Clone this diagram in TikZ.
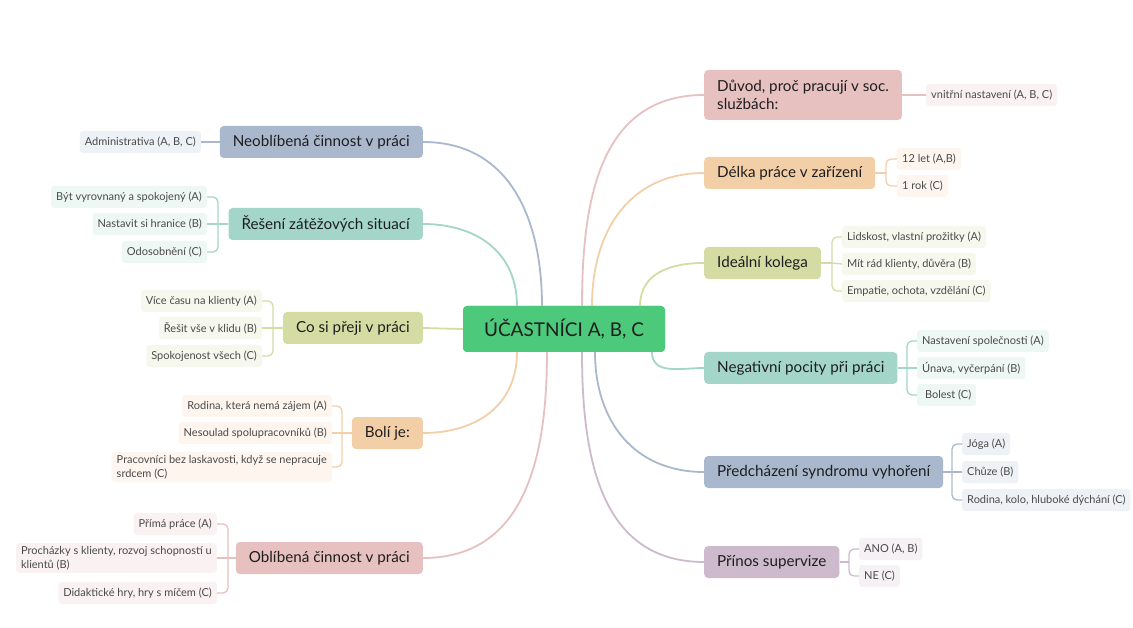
\documentclass[tikz,border=0pt]{standalone}
\usepackage{fontspec}
\setmainfont{Lato}
\definecolor{cblue}{HTML}{AAB8CD}
\definecolor{cteal}{HTML}{A3D5C8}
\definecolor{colive}{HTML}{D4DCA4}
\definecolor{cpeach}{HTML}{F3CFA8}
\definecolor{cpink}{HTML}{E7C0C0}
\definecolor{cmauve}{HTML}{CDBBCD}
\definecolor{cgreen}{HTML}{4CC97B}
\definecolor{maintext}{HTML}{1E1E1E}
\definecolor{leaftext}{HTML}{4A4A4A}
\begin{document}
\begin{tikzpicture}[x=1pt,y=-1pt,
  mainbox/.style={rounded corners=4pt, minimum height=32pt, inner xsep=13pt, inner ysep=4pt,
    font=\fontsize{15.2}{18}\selectfont, text=maintext, align=left},
  rootbox/.style={mainbox, fill=cgreen, font=\fontsize{19}{23}\selectfont, minimum width=202pt, minimum height=46pt, align=center},
  leafbox/.style={rounded corners=3pt, minimum height=22pt, inner xsep=5pt, inner ysep=3pt,
    font=\fontsize{11}{14}\selectfont, text=leaftext, align=left},
  conn/.style={line width=1.8pt},
  lconn/.style={line width=1.3pt, rounded corners=5pt}]
\useasboundingbox (0,0) rectangle (1133,628);

% root (placed first to name it, redrawn over the connectors below)
\node[rootbox] (root) at (564,329) {ÚČASTNÍCI A, B, C};

% left main nodes
\node[mainbox, fill=cblue, anchor=east] (L1) at (423,142) {Neoblíbená činnost v práci};
\node[mainbox, fill=cteal, anchor=east] (L2) at (423,224) {Řešení zátěžových situací};
\node[mainbox, fill=colive, anchor=east] (L3) at (423,328) {Co si přeji v práci};
\node[mainbox, fill=cpeach, anchor=east] (L4) at (423,433) {Bolí je:};
\node[mainbox, fill=cpink, anchor=east] (L5) at (423,558) {Oblíbená činnost v práci};

% right main nodes
\node[mainbox, fill=cpink, anchor=west, minimum height=50pt] (R1) at (704,95) {Důvod, proč pracují v soc.\\službách:};
\node[mainbox, fill=cpeach, anchor=west] (R2) at (704,173) {Délka práce v zařízení};
\node[mainbox, fill=colive, anchor=west] (R3) at (704,263) {Ideální kolega};
\node[mainbox, fill=cteal, anchor=west] (R4) at (704,368) {Negativní pocity při práci};
\node[mainbox, fill=cblue, anchor=west] (R5) at (704,472) {Předcházení syndromu vyhoření};
\node[mainbox, fill=cmauve, anchor=west] (R6) at (704,562) {Přínos supervize};

% attachment points on root
\coordinate (t1) at (542,306);
\coordinate (t2) at (517,306);
\coordinate (b4) at (517,352);
\coordinate (b5) at (547,352);
\coordinate (t6) at (582,306);
\coordinate (t7) at (592,306);
\coordinate (t8) at (640,306);
\coordinate (b9) at (652,352);
\coordinate (b10) at (595,352);
\coordinate (b11) at (582,352);

\draw[conn, cblue] (L1.east) to[out=0,in=90,looseness=1.1] (t1);
\draw[conn, cteal] (L2.east) to[out=0,in=90,looseness=1.1] (t2);
\draw[conn, colive] (L3.east) -- (root.west);
\draw[conn, cpeach] (L4.east) to[out=0,in=-90,looseness=1.1] (b4);
\draw[conn, cpink] (L5.east) to[out=0,in=-90,looseness=1.1] (b5);
\draw[conn, cpink] (R1.west) to[out=180,in=90,looseness=1.1] (t6);
\draw[conn, cpeach] (R2.west) to[out=180,in=90,looseness=1.1] (t7);
\draw[conn, colive] (R3.west) to[out=180,in=90,looseness=1.1] (t8);
\draw[conn, cteal] (R4.west) to[out=180,in=-90,looseness=1.1] (b9);
\draw[conn, cblue] (R5.west) to[out=180,in=-90,looseness=1.1] (b10);
\draw[conn, cmauve] (R6.west) to[out=180,in=-90,looseness=1.1] (b11);
\node[rootbox] at (root) {ÚČASTNÍCI A, B, C};

% ---------- left leaves
\node[leafbox, fill=cblue!20!white, anchor=east] (L1a) at (201,142) {Administrativa (A, B, C)};
\draw[lconn, cblue] (L1.west) -- (L1a.east);

\node[leafbox, fill=cteal!20!white, anchor=east] (L2a) at (207,197) {Být vyrovnaný a spokojený (A)};
\node[leafbox, fill=cteal!20!white, anchor=east] (L2b) at (207,224) {Nastavit si hranice (B)};
\node[leafbox, fill=cteal!20!white, anchor=east] (L2c) at (207,252) {Odosobnění (C)};
\coordinate (L2k) at (218,224);
\draw[lconn, cteal] (L2.west) -- (L2k);
\draw[lconn, cteal] (L2a.east) -| (L2k);
\draw[lconn, cteal] (L2b.east) -- (L2k);
\draw[lconn, cteal] (L2c.east) -| (L2k);

\node[leafbox, fill=colive!20!white, anchor=east] (L3a) at (262,301) {Více času na klienty (A)};
\node[leafbox, fill=colive!20!white, anchor=east] (L3b) at (262,328) {Řešit vše v klidu (B)};
\node[leafbox, fill=colive!20!white, anchor=east] (L3c) at (262,356) {Spokojenost všech (C)};
\coordinate (L3k) at (273,328);
\draw[lconn, colive] (L3.west) -- (L3k);
\draw[lconn, colive] (L3a.east) -| (L3k);
\draw[lconn, colive] (L3b.east) -- (L3k);
\draw[lconn, colive] (L3c.east) -| (L3k);

\node[leafbox, fill=cpeach!20!white, anchor=east] (L4a) at (332,406) {Rodina, která nemá zájem (A)};
\node[leafbox, fill=cpeach!20!white, anchor=east] (L4b) at (332,433) {Nesoulad spolupracovníků (B)};
\node[leafbox, fill=cpeach!20!white, anchor=east] (L4c) at (332,467) {Pracovníci bez laskavosti, když se nepracuje\\srdcem (C)};
\coordinate (L4k) at (342,433);
\draw[lconn, cpeach] (L4.west) -- (L4k);
\draw[lconn, cpeach] (L4a.east) -| (L4k);
\draw[lconn, cpeach] (L4b.east) -- (L4k);
\draw[lconn, cpeach] (L4c.east) -| (L4k);

\node[leafbox, fill=cpink!20!white, anchor=east] (L5a) at (217,524) {Přímá práce (A)};
\node[leafbox, fill=cpink!20!white, anchor=east] (L5b) at (217,558) {Procházky s klienty, rozvoj schopností u\\klientů (B)};
\node[leafbox, fill=cpink!20!white, anchor=east] (L5c) at (217,593) {Didaktické hry, hry s míčem (C)};
\coordinate (L5k) at (228,558);
\draw[lconn, cpink] (L5.west) -- (L5k);
\draw[lconn, cpink] (L5a.east) -| (L5k);
\draw[lconn, cpink] (L5b.east) -- (L5k);
\draw[lconn, cpink] (L5c.east) -| (L5k);

% ---------- right leaves
\node[leafbox, fill=cpink!20!white, anchor=west] (R1a) at (926,95) {vnitřní nastavení (A, B, C)};
\draw[lconn, cpink] (R1.east) -- (R1a.west);

\node[leafbox, fill=cpeach!20!white, anchor=west] (R2a) at (897,159) {12 let (A,B)};
\node[leafbox, fill=cpeach!20!white, anchor=west] (R2b) at (897,186) {1 rok (C)};
\coordinate (R2k) at (886,173);
\draw[lconn, cpeach] (R2.east) -- (R2k);
\draw[lconn, cpeach] (R2a.west) -| (R2k);
\draw[lconn, cpeach] (R2b.west) -| (R2k);

\node[leafbox, fill=colive!20!white, anchor=west] (R3a) at (842,237) {Lidskost, vlastní prožitky (A)};
\node[leafbox, fill=colive!20!white, anchor=west] (R3b) at (842,264) {Mít rád klienty, důvěra (B)};
\node[leafbox, fill=colive!20!white, anchor=west] (R3c) at (842,291) {Empatie, ochota, vzdělání (C)};
\coordinate (R3k) at (832,263);
\draw[lconn, colive] (R3.east) -- (R3k);
\draw[lconn, colive] (R3a.west) -| (R3k);
\draw[lconn, colive] (R3b.west) -- (R3k);
\draw[lconn, colive] (R3c.west) -| (R3k);

\node[leafbox, fill=cteal!20!white, anchor=west] (R4a) at (917,341) {Nastavení společnosti (A)};
\node[leafbox, fill=cteal!20!white, anchor=west] (R4b) at (917,368) {Únava, vyčerpání (B)};
\node[leafbox, fill=cteal!20!white, anchor=west] (R4c) at (917,395) {\ Bolest (C)};
\coordinate (R4k) at (907,368);
\draw[lconn, cteal] (R4.east) -- (R4k);
\draw[lconn, cteal] (R4a.west) -| (R4k);
\draw[lconn, cteal] (R4b.west) -- (R4k);
\draw[lconn, cteal] (R4c.west) -| (R4k);

\node[leafbox, fill=cblue!20!white, anchor=west] (R5a) at (962,444) {Jóga (A)};
\node[leafbox, fill=cblue!20!white, anchor=west] (R5b) at (962,472) {Chůze (B)};
\node[leafbox, fill=cblue!20!white, anchor=west] (R5c) at (962,500) {Rodina, kolo, hluboké dýchání (C)};
\coordinate (R5k) at (952,472);
\draw[lconn, cblue] (R5.east) -- (R5k);
\draw[lconn, cblue] (R5a.west) -| (R5k);
\draw[lconn, cblue] (R5b.west) -- (R5k);
\draw[lconn, cblue] (R5c.west) -| (R5k);

\node[leafbox, fill=cmauve!20!white, anchor=west] (R6a) at (859,549) {ANO (A, B)};
\node[leafbox, fill=cmauve!20!white, anchor=west] (R6b) at (859,576) {NE (C)};
\coordinate (R6k) at (849,562);
\draw[lconn, cmauve] (R6.east) -- (R6k);
\draw[lconn, cmauve] (R6a.west) -| (R6k);
\draw[lconn, cmauve] (R6b.west) -| (R6k);
\end{tikzpicture}
\end{document}
